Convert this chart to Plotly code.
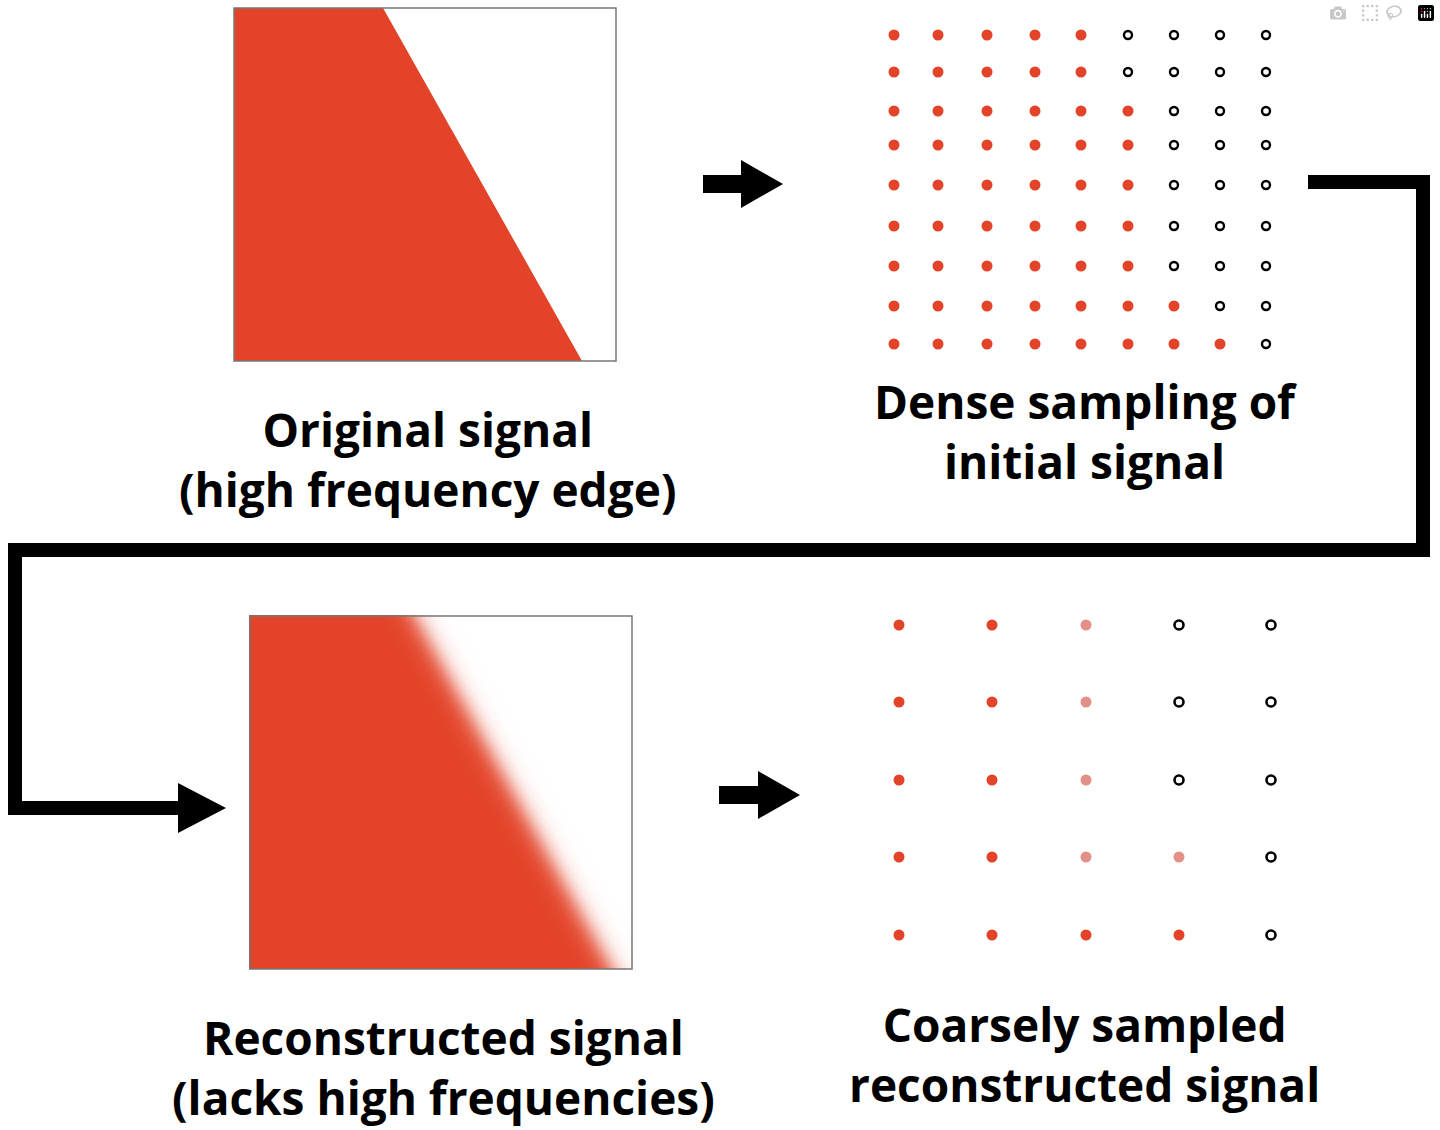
import numpy as np
import plotly.graph_objects as go

RED = "#E34328"
PINK = "#E39088"

# dense sampling grid (pixel positions)
dense_x = [894, 938, 987, 1035, 1081, 1128, 1174, 1220, 1266]
dense_y = [35, 72, 111, 145, 185, 226, 266, 306, 344]
# number of red samples per row, rest are empty circles
dense_red = [5, 5, 6, 6, 6, 6, 6, 7, 8]

# coarse sampling grid
coarse_x = [899, 992, 1086, 1179, 1271]
coarse_y = [625, 702, 780, 857, 935]
# 2 = red, 1 = pink (partial), 0 = empty
coarse_state = [
    [2, 2, 1, 0, 0],
    [2, 2, 1, 0, 0],
    [2, 2, 1, 0, 0],
    [2, 2, 1, 1, 0],
    [2, 2, 2, 2, 0],
]

orig_box = [234, 616, 8, 361]
orig_poly_x = [234, 383, 582, 234]
orig_poly_y = [8, 8, 361, 361]

recon_box = [250, 632, 616, 969]
recon_edge = [(415, 616), (612, 969)]  # centre line of blurred edge
blur_px = 6

flow_x = [1308, 1423, 1423, 15, 15, 185]
flow_y = [182, 182, 550, 550, 808, 808]

fig = go.Figure()

# original signal
fig.add_trace(go.Scatter(x=orig_poly_x, y=orig_poly_y, fill="toself", fillcolor=RED,
                         line=dict(width=0), mode="lines", hoverinfo="skip"))

# reconstructed signal (blurred edge)
hx = np.arange(recon_box[0], recon_box[1] + 1, 2)
hy = np.arange(recon_box[2], recon_box[3] + 1, 2)
X, Y = np.meshgrid(hx, hy)
(x0, y0), (x1, y1) = recon_edge
dx, dy = x1 - x0, y1 - y0
n = np.hypot(dx, dy)
d = ((X - x0) * dy - (Y - y0) * dx) / n
Z = 1 / (1 + np.exp(d / blur_px))
fig.add_trace(go.Heatmap(x=hx, y=hy, z=Z, colorscale=[[0, "white"], [1, RED]],
                         showscale=False, zmin=0, zmax=1, hoverinfo="skip"))

for b in (orig_box, recon_box):
    fig.add_shape(type="rect", x0=b[0], x1=b[1], y0=b[2], y1=b[3],
                  line=dict(color="#777", width=1.5))

# dense samples
rx, ry, ox, oy = [], [], [], []
for yy, nr in zip(dense_y, dense_red):
    for i, xx in enumerate(dense_x):
        (rx if i < nr else ox).append(xx)
        (ry if i < nr else oy).append(yy)
fig.add_trace(go.Scatter(x=rx, y=ry, mode="markers",
                         marker=dict(color=RED, size=11, line=dict(width=0))))
fig.add_trace(go.Scatter(x=ox, y=oy, mode="markers",
                         marker=dict(color="white", size=8, line=dict(color="black", width=2.4))))

# coarse samples
for state, col in [(2, RED), (1, PINK)]:
    px = [coarse_x[j] for i, r in enumerate(coarse_state) for j, s in enumerate(r) if s == state]
    py = [coarse_y[i] for i, r in enumerate(coarse_state) for j, s in enumerate(r) if s == state]
    fig.add_trace(go.Scatter(x=px, y=py, mode="markers",
                             marker=dict(color=col, size=11, line=dict(width=0))))
px = [coarse_x[j] for i, r in enumerate(coarse_state) for j, s in enumerate(r) if s == 0]
py = [coarse_y[i] for i, r in enumerate(coarse_state) for j, s in enumerate(r) if s == 0]
fig.add_trace(go.Scatter(x=px, y=py, mode="markers",
                         marker=dict(color="white", size=9, line=dict(color="black", width=2.6))))

# flow connector
fig.add_trace(go.Scatter(x=flow_x, y=flow_y, mode="lines",
                         line=dict(color="black", width=14), hoverinfo="skip"))


def arrow(xs, xe, y, head=42, half=24, th=18):
    fig.add_shape(type="path", fillcolor="black", line=dict(width=0),
                  path=f"M{xs},{y-th/2} L{xe-head},{y-th/2} L{xe-head},{y-half} L{xe},{y} "
                       f"L{xe-head},{y+half} L{xe-head},{y+th/2} L{xs},{y+th/2} Z")


arrow(703, 783, 184)
arrow(719, 800, 795)
arrow(180, 226, 808, head=48, half=25, th=14)

font = dict(family="Open Sans", size=46, color="black")
labels = [
    (427, 459, "<b>Original signal<br>(high frequency edge)</b>"),
    (1085, 431, "<b>Dense sampling of<br>initial signal</b>"),
    (443, 1067, "<b>Reconstructed signal<br>(lacks high frequencies)</b>"),
    (1084, 1054, "<b>Coarsely sampled<br>reconstructed signal</b>"),
]
for x, y, t in labels:
    fig.add_annotation(x=x, y=y, text=t, showarrow=False, font=font, align="center",
                       xanchor="center", yanchor="middle")

fig.update_layout(width=1440, height=1130, margin=dict(l=0, r=0, t=0, b=0),
                  paper_bgcolor="white", plot_bgcolor="white", showlegend=False,
                  xaxis=dict(range=[0, 1440], visible=False, fixedrange=True),
                  yaxis=dict(range=[1130, 0], visible=False, fixedrange=True))
fig.write_html("out.html", post_script="document.body.style.margin='0';document.body.style.overflow='hidden';")
